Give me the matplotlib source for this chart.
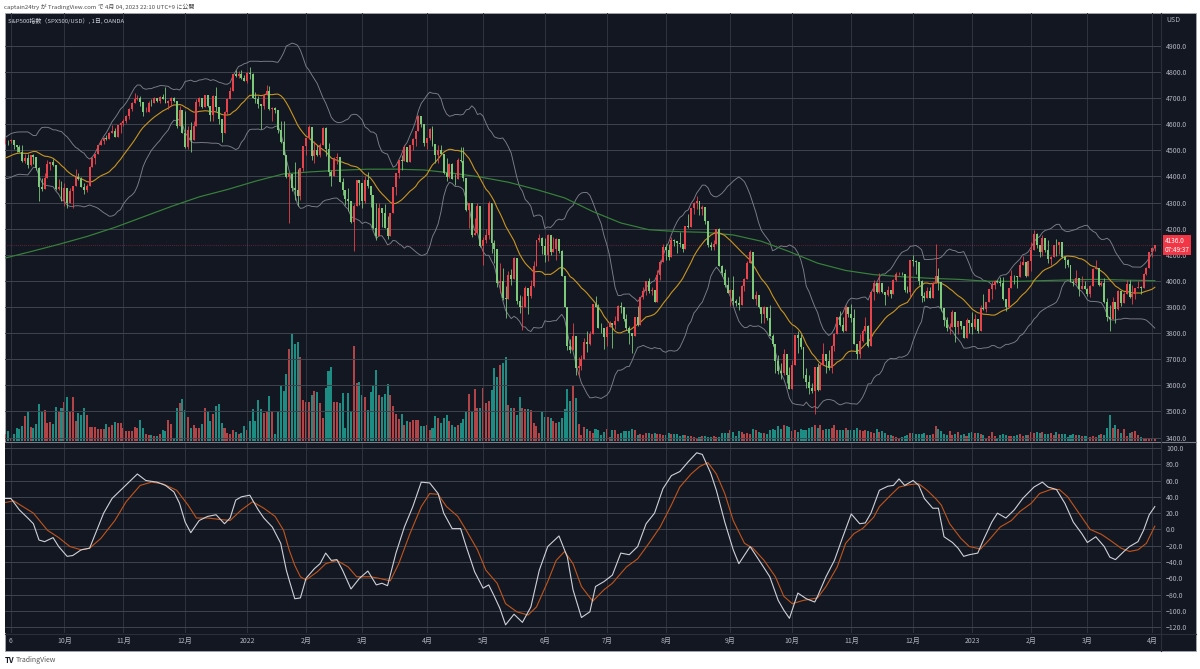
import numpy as np
import pandas as pd
import matplotlib
matplotlib.use("Agg")
import matplotlib.pyplot as plt
from matplotlib.patches import Rectangle
from matplotlib.lines import Line2D
from matplotlib.ticker import FuncFormatter

plt.rcParams['font.family'] = ['Noto Sans CJK JP', 'DejaVu Sans']

# ---------------- data ----------------
start_date = "2021-09-01"
end_date = "2023-04-04"
closed_days = ["2021-12-24", "2022-04-15", "2022-12-26", "2023-01-02"]

# August 2021 closes (only used to warm up the 20-day Bollinger band)
warmup_close = [4387, 4423, 4402, 4429, 4437, 4432, 4436, 4447, 4460, 4468, 4479,
                4448, 4400, 4405, 4441, 4479, 4486, 4496, 4470, 4509, 4528, 4523]

close = [
    4524, 4537, 4535, 4538, 4520, 4514, 4493, 4459, 4469, 4443, 4481, 4473, 4433, 4358, 4354, 4396, 4449, 4455, 4443, 4353, 4360, 4308,
    4357, 4300, 4345, 4363, 4399, 4391, 4361, 4350, 4364, 4438, 4471, 4486, 4519, 4537, 4549, 4545, 4567, 4575, 4551, 4596, 4605,
    4613, 4631, 4660, 4680, 4697, 4702, 4685, 4646, 4649, 4683, 4682, 4701, 4688, 4704, 4698, 4682, 4690, 4701, 4689, 4595, 4655, 4567,
    4513, 4577, 4538, 4592, 4686, 4701, 4668, 4712, 4669, 4635, 4710, 4668, 4621, 4568, 4649, 4697, 4726, 4791, 4786, 4793, 4778, 4766,
    4797, 4794, 4701, 4696, 4677, 4670, 4713, 4726, 4659, 4663, 4655, 4577, 4533, 4483, 4398, 4410, 4357, 4350, 4326, 4432, 4516,
    4546, 4589, 4477, 4501, 4484, 4522, 4587, 4504, 4419, 4402, 4472, 4475, 4380, 4349, 4312, 4305, 4226, 4288, 4385, 4374,
    4306, 4387, 4363, 4329, 4201, 4171, 4278, 4260, 4204, 4173, 4262, 4358, 4412, 4463, 4461, 4512, 4456, 4520, 4543, 4575, 4632, 4602, 4530,
    4546, 4583, 4525, 4481, 4500, 4488, 4413, 4397, 4447, 4392, 4391, 4463, 4460, 4394, 4272, 4297, 4175, 4184, 4288, 4132,
    4155, 4175, 4300, 4147, 4123, 3991, 4001, 3935, 3930, 4024, 4008, 4088, 3923, 3901, 3901, 3974, 3941, 3979, 4058, 4158, 4165, 4132,
    4101, 4177, 4109, 4121, 4161, 4116, 4018, 3901, 3750, 3735, 3790, 3667, 3675, 3700, 3765, 3760, 3796, 3912, 3901, 3821, 3819, 3785,
    3825, 3840, 3831, 3845, 3903, 3899, 3855, 3819, 3802, 3790, 3863, 3831, 3937, 3960, 3999, 3962, 3967, 3921, 4024, 4073, 4130,
    4119, 4091, 4155, 4152, 4145, 4140, 4122, 4210, 4207, 4280, 4297, 4305, 4275, 4284, 4228, 4138, 4128, 4141, 4199, 4058, 4031, 3986, 3955,
    3967, 3924, 3915, 3909, 3980, 4006, 4067, 4110, 3932, 3946, 3901, 3873, 3900, 3856, 3790, 3758, 3693, 3655, 3647, 3720, 3640, 3586,
    3678, 3791, 3783, 3745, 3640, 3612, 3589, 3577, 3670, 3583, 3677, 3720, 3695, 3666, 3752, 3797, 3860, 3831, 3807, 3901, 3872,
    3856, 3760, 3720, 3771, 3807, 3828, 3749, 3957, 3993, 3957, 3992, 3959, 3947, 3965, 3950, 4004, 4027, 4028, 4026, 3964, 3958, 4080,
    4076, 4072, 3999, 3941, 3934, 3963, 3934, 3991, 4020, 3996, 3896, 3852, 3818, 3822, 3879, 3822, 3845, 3829, 3783, 3849, 3840,
    3825, 3853, 3808, 3895, 3893, 3919, 3970, 3983, 3999, 3995, 3991, 3929, 3899, 3972, 4020, 4017, 4016, 4060, 4071, 4018, 4077,
    4119, 4180, 4136, 4111, 4164, 4118, 4082, 4090, 4137, 4136, 4148, 4090, 4079, 4060, 3997, 3991, 4012, 3970, 3982, 3970,
    3951, 3981, 4046, 4048, 3986, 3992, 3918, 3862, 3855, 3920, 3892, 3960, 3917, 3951, 3990, 3937, 3948, 3971, 3977, 3971, 4027, 4051, 4109,
    4125, 4136,
]

high = [
    4532, 4546, 4541, 4542, 4541, 4522, 4521, 4521, 4486, 4485, 4484, 4486, 4475, 4435, 4394, 4415, 4465, 4457, 4466, 4445, 4389, 4383,
    4375, 4356, 4356, 4365, 4429, 4412, 4398, 4375, 4372, 4439, 4475, 4488, 4520, 4539, 4551, 4560, 4572, 4598, 4584, 4597, 4608,
    4620, 4635, 4664, 4684, 4718, 4714, 4708, 4682, 4665, 4688, 4698, 4705, 4702, 4708, 4717, 4743, 4694, 4703, 4704, 4686, 4672, 4652,
    4652, 4595, 4608, 4612, 4695, 4705, 4698, 4713, 4711, 4666, 4712, 4743, 4666, 4599, 4651, 4700, 4741, 4792, 4807, 4805, 4808, 4787,
    4800, 4819, 4797, 4725, 4707, 4672, 4714, 4749, 4745, 4666, 4668, 4633, 4612, 4611, 4480, 4417, 4411, 4454, 4429, 4433, 4516,
    4547, 4596, 4542, 4537, 4522, 4529, 4591, 4589, 4527, 4426, 4473, 4490, 4446, 4395, 4350, 4356, 4307, 4295, 4385, 4388,
    4375, 4401, 4416, 4343, 4327, 4300, 4299, 4262, 4295, 4247, 4262, 4358, 4412, 4465, 4481, 4522, 4501, 4521, 4546, 4576, 4637, 4628, 4603,
    4549, 4587, 4593, 4503, 4521, 4521, 4471, 4471, 4453, 4453, 4410, 4471, 4512, 4512, 4386, 4299, 4278, 4240, 4300, 4270,
    4169, 4200, 4308, 4270, 4157, 4081, 4068, 4050, 3981, 4039, 4047, 4091, 4074, 3946, 3944, 3981, 3955, 4002, 4076, 4158, 4180, 4169,
    4166, 4178, 4143, 4169, 4164, 4160, 4117, 3975, 3838, 3778, 3838, 3728, 3708, 3715, 3780, 3809, 3808, 3912, 3942, 3911, 3838, 3819,
    3829, 3848, 3832, 3864, 3906, 3918, 3880, 3875, 3829, 3796, 3863, 3903, 3940, 3975, 4000, 4013, 3975, 3964, 4040, 4079, 4140,
    4140, 4140, 4167, 4161, 4152, 4187, 4142, 4211, 4257, 4280, 4301, 4325, 4303, 4292, 4274, 4207, 4149, 4156, 4200, 4204, 4062, 4045, 4015,
    3970, 4018, 3930, 3942, 3984, 4010, 4077, 4120, 4110, 3962, 3945, 3880, 3902, 3899, 3907, 3796, 3750, 3715, 3687, 3740, 3687, 3671,
    3698, 3791, 3807, 3796, 3719, 3668, 3640, 3607, 3672, 3686, 3689, 3762, 3704, 3736, 3755, 3800, 3862, 3886, 3860, 3906, 3893,
    3911, 3894, 3760, 3796, 3814, 3860, 3830, 3959, 4002, 3990, 4029, 3983, 3959, 3980, 3965, 4006, 4034, 4035, 4035, 4026, 3979, 4080,
    4101, 4080, 4072, 4002, 3958, 3977, 3977, 3994, 4140, 4051, 3996, 3870, 3863, 3839, 3888, 3879, 3846, 3846, 3829, 3859, 3849,
    3879, 3874, 3853, 3907, 3951, 3919, 3970, 3998, 4004, 4002, 4015, 4015, 3929, 3973, 4040, 4024, 4019, 4077, 4095, 4071, 4077,
    4148, 4195, 4183, 4136, 4176, 4164, 4156, 4095, 4138, 4159, 4149, 4148, 4090, 4083, 4060, 4004, 4040, 4012, 4018, 3999,
    3972, 3983, 4049, 4079, 4051, 4000, 4011, 3934, 3906, 3938, 3920, 3965, 3960, 3957, 4003, 4003, 3985, 3973, 3999, 3979, 4031, 4053, 4110,
    4129, 4138,
]

low = [
    4515, 4526, 4522, 4530, 4506, 4494, 4492, 4456, 4453, 4431, 4440, 4448, 4426, 4306, 4346, 4354, 4406, 4425, 4439, 4348, 4347, 4306,
    4288, 4279, 4301, 4279, 4371, 4387, 4359, 4332, 4340, 4375, 4448, 4448, 4493, 4519, 4524, 4538, 4546, 4568, 4551, 4553, 4567,
    4595, 4604, 4619, 4650, 4681, 4694, 4670, 4630, 4646, 4651, 4672, 4684, 4684, 4682, 4695, 4681, 4660, 4670, 4685, 4587, 4626, 4565,
    4510, 4504, 4495, 4540, 4610, 4670, 4662, 4671, 4667, 4614, 4612, 4651, 4600, 4532, 4583, 4640, 4703, 4733, 4780, 4778, 4775, 4765,
    4758, 4775, 4700, 4681, 4663, 4582, 4658, 4718, 4653, 4614, 4645, 4568, 4530, 4482, 4396, 4222, 4345, 4309, 4287, 4310, 4420,
    4483, 4544, 4464, 4452, 4477, 4476, 4547, 4477, 4402, 4364, 4429, 4446, 4377, 4328, 4290, 4267, 4221, 4114, 4287, 4292,
    4279, 4297, 4356, 4285, 4199, 4157, 4222, 4206, 4202, 4161, 4187, 4288, 4329, 4394, 4424, 4468, 4455, 4465, 4501, 4517, 4589, 4589, 4517,
    4507, 4539, 4515, 4451, 4450, 4487, 4410, 4381, 4395, 4391, 4367, 4390, 4455, 4384, 4268, 4201, 4170, 4178, 4188, 4128,
    4062, 4147, 4159, 4106, 4068, 3976, 3954, 3928, 3859, 3975, 3984, 4033, 3912, 3876, 3810, 3909, 3875, 3935, 3977, 4078, 4150, 4103,
    4074, 4075, 4101, 4110, 4080, 4108, 4018, 3900, 3735, 3722, 3749, 3640, 3636, 3660, 3715, 3728, 3754, 3799, 3899, 3820, 3799, 3738,
    3752, 3825, 3742, 3814, 3853, 3877, 3848, 3812, 3759, 3722, 3818, 3826, 3860, 3930, 3946, 3955, 3947, 3919, 3954, 4003, 4080,
    4079, 4079, 4096, 4135, 4107, 4128, 4112, 4177, 4201, 4231, 4255, 4277, 4254, 4254, 4218, 4131, 4120, 4120, 4147, 4057, 4017, 3976, 3954,
    3903, 3907, 3905, 3887, 3907, 3960, 4018, 4084, 3930, 3907, 3896, 3838, 3838, 3850, 3789, 3749, 3647, 3645, 3624, 3640, 3610, 3584,
    3590, 3726, 3723, 3738, 3627, 3589, 3568, 3570, 3491, 3577, 3644, 3678, 3649, 3658, 3647, 3733, 3799, 3826, 3803, 3808, 3863,
    3843, 3759, 3699, 3706, 3764, 3805, 3748, 3797, 3927, 3954, 3953, 3954, 3907, 3942, 3933, 3956, 3999, 4022, 4023, 3957, 3955, 3940,
    4057, 4027, 3984, 3918, 3922, 3933, 3933, 3937, 3993, 3966, 3885, 3827, 3808, 3795, 3842, 3764, 3797, 3814, 3783, 3801, 3800,
    3795, 3817, 3802, 3810, 3890, 3882, 3930, 3932, 3969, 3992, 3981, 3925, 3885, 3909, 3971, 3990, 3973, 4034, 4059, 4015, 4018,
    4038, 4124, 4126, 4093, 4097, 4112, 4069, 4060, 4093, 4095, 4103, 4088, 4048, 4052, 3995, 3981, 3988, 3943, 3977, 3968,
    3943, 3938, 3987, 4044, 3980, 3980, 3917, 3847, 3808, 3874, 3839, 3888, 3902, 3917, 3951, 3936, 3911, 3931, 3973, 3951, 3999, 4021, 4056,
    4093, 4115,
]

# tick volume (arbitrary units, read as relative bar heights)
volume = [
    25, 20, 30, 10, 20, 40, 35, 45, 75, 90, 42, 40, 52, 110, 90, 92, 55, 58, 50, 102, 88, 100,
    118, 132, 88, 133, 60, 85, 77, 98, 78, 42, 43, 43, 35, 35, 36, 52, 42, 47, 57, 55, 55,
    38, 30, 30, 30, 42, 38, 62, 38, 20, 18, 18, 16, 15, 22, 33, 30, 63, 52, 7, 100, 115, 126,
    92, 72, 40, 47, 40, 40, 50, 98, 90, 60, 82, 105, 110, 55, 38, 25, 22, 32, 28, 22, 25, 44,
    34, 60, 95, 60, 123, 97, 85, 87, 135, 90, 22, 87, 165, 150, 200, 275, 320, 290, 295, 252, 122,
    118, 118, 137, 150, 148, 115, 68, 158, 210, 220, 118, 118, 115, 143, 40, 143, 87, 285, 173, 175,
    137, 133, 94, 147, 167, 213, 137, 132, 140, 170, 137, 105, 80, 65, 80, 47, 60, 58, 62, 62, 62, 45, 45,
    48, 33, 40, 75, 70, 55, 68, 77, 60, 48, 43, 47, 55, 67, 87, 140, 87, 155, 100, 98,
    158, 115, 120, 153, 217, 192, 227, 232, 252, 108, 98, 100, 78, 132, 98, 95, 95, 93, 55, 45, 25, 88,
    72, 72, 68, 60, 55, 57, 68, 95, 155, 120, 168, 130, 50, 17, 43, 37, 30, 25, 37, 33, 17, 27,
    37, 12, 33, 33, 22, 25, 30, 30, 30, 35, 32, 18, 22, 18, 23, 25, 20, 23, 20, 20, 18,
    17, 25, 22, 20, 20, 16, 17, 17, 14, 14, 12, 10, 12, 14, 15, 13, 12, 15, 13, 12, 23, 25, 25,
    32, 28, 15, 30, 28, 22, 25, 20, 37, 32, 28, 25, 25, 22, 33, 35, 32, 44, 35, 47, 45, 42,
    30, 33, 27, 37, 34, 32, 40, 42, 47, 40, 47, 32, 35, 35, 38, 47, 32, 33, 32, 40, 32,
    32, 32, 40, 32, 30, 33, 30, 27, 23, 37, 28, 30, 25, 18, 17, 15, 12, 8, 12, 15, 17, 25,
    23, 20, 20, 20, 25, 18, 18, 20, 45, 35, 30, 22, 18, 30, 18, 20, 27, 18, 22, 15, 23,
    28, 25, 25, 22, 18, 10, 15, 27, 15, 10, 17, 20, 18, 15, 15, 15, 17, 20, 15, 18, 17,
    27, 25, 28, 25, 27, 22, 20, 23, 18, 28, 20, 20, 20, 12, 17, 22, 17, 17, 15, 15,
    15, 12, 15, 12, 17, 20, 17, 40, 77, 40, 48, 35, 25, 37, 15, 25, 27, 30, 17, 12, 10, 10, 10,
    10, 5,
]

# long moving average (green), read every 10 bars
ma_long_bar = list(range(0, 411, 10))
ma_long_val = [4085, 4112, 4140, 4170, 4205, 4245, 4285, 4322, 4350, 4382, 4410, 4418, 4424, 4428,
               4428, 4425, 4413, 4398, 4378, 4350, 4318, 4266, 4222, 4196, 4189, 4186, 4176, 4152,
               4112, 4068, 4040, 4024, 4016, 4010, 4006, 3999, 3998, 4001, 4004, 4006, 4003, 4001]

# oscillator: (bar number, value)
osc_fast = [
    (1, 38), (3, 38), (6, 24), (9, 14), (11, 7), (13, -13), (15, -15), (18, -10), (20, -21), (23, -33),
    (25, -32), (28, -25), (31, -23), (34, 3), (36, 20), (39, 38), (42, 48), (45, 58), (48, 68), (51, 60),
    (55, 58), (58, 54), (61, 46), (63, 32), (65, 9), (67, -4), (70, 11), (73, 16), (76, 18), (79, 7),
    (81, 14), (83, 36), (85, 40), (88, 42), (91, 24), (93, 14), (96, 3), (99, -17), (101, -50), (102, -62),
    (104, -85), (106, -84), (108, -60), (111, -48), (113, -42), (115, -29), (117, -38), (119, -37), (121, -50),
    (124, -73), (127, -60), (130, -51), (133, -68), (135, -66), (137, -69), (140, -29), (143, 3), (146, 28),
    (149, 58), (152, 57), (155, 44), (157, 20), (160, 1), (163, 1), (165, -21), (168, -52), (171, -72),
    (173, -68), (175, -82), (177, -97), (179, -117), (182, -104), (185, -114), (188, -95), (191, -50),
    (194, -21), (198, -8), (201, -34), (203, -74), (206, -108), (209, -101), (211, -70), (214, -64),
    (217, -56), (220, -29), (223, -31), (226, -21), (229, 7), (232, 20), (235, 50), (238, 66), (241, 71),
    (244, 83), (247, 94), (249, 92), (252, 69), (254, 48), (257, 9), (260, -25), (262, -42), (266, -21),
    (270, -42), (273, -58), (276, -87), (278, -99), (280, -109), (283, -78), (286, -85), (289, -89),
    (290, -82), (293, -58), (296, -38), (299, -9), (302, 19), (305, 7), (307, 8), (309, 20), (312, 48),
    (315, 53), (317, 54), (319, 62), (321, 54), (324, 60), (326, 54), (328, 38), (331, 26), (333, 26),
    (335, -9), (338, -16), (340, -23), (342, -33), (344, -31), (347, -29), (349, -13), (352, 9), (354, 20),
    (357, 14), (360, 24), (363, 38), (367, 52), (370, 58), (372, 52), (375, 49), (378, 32), (381, 9),
    (384, -5), (386, -16), (389, -9), (392, -21), (394, -34), (396, -37), (399, -27), (401, -21),
    (404, -15), (406, -1), (408, 18), (410, 28),
]
osc_slow = [
    (1, 33), (4, 35), (11, 20), (16, -1), (20, -10), (24, -21), (28, -25), (31, -23), (35, -11), (40, 11),
    (44, 34), (49, 54), (53, 58), (57, 56), (62, 48), (66, 30), (69, 14), (73, 14), (78, 12), (81, 11),
    (85, 24), (89, 34), (93, 26), (97, 16), (100, -1), (102, -25), (104, -44), (106, -58), (108, -62),
    (112, -52), (115, -42), (119, -38), (123, -46), (126, -58), (131, -58), (134, -60), (138, -63),
    (141, -42), (145, -5), (149, 28), (152, 44), (155, 43), (158, 28), (162, 16), (165, -1), (169, -25),
    (172, -50), (176, -66), (179, -91), (183, -101), (187, -105), (190, -95), (194, -64), (197, -38),
    (200, -27), (203, -42), (206, -70), (210, -88), (214, -74), (217, -66), (222, -46), (226, -36),
    (230, -17), (234, 3), (238, 30), (241, 52), (245, 68), (248, 77), (251, 82), (254, 68), (257, 44),
    (260, 11), (264, -17), (267, -23), (271, -38), (275, -58), (278, -82), (281, -91), (285, -87),
    (290, -84), (293, -70), (297, -46), (300, -17), (303, -5), (306, 1), (310, 15), (312, 28), (316, 42),
    (319, 52), (323, 55), (326, 56), (329, 48), (332, 38), (334, 30), (337, 7), (341, -11), (344, -21),
    (348, -24), (351, -13), (355, 3), (359, 11), (362, 22), (366, 32), (369, 44), (373, 49), (376, 49),
    (379, 40), (383, 20), (387, 0), (391, -6), (394, -13), (398, -23), (401, -27), (404, -25), (407, -17),
    (410, 4),
]

tick_dates = ["2021-09-06", "2021-10-01", "2021-11-01", "2021-12-01", "2022-01-03", "2022-02-01",
              "2022-03-01", "2022-04-01", "2022-05-02", "2022-06-01", "2022-07-01", "2022-08-01",
              "2022-09-01", "2022-10-03", "2022-11-01", "2022-12-01", "2023-01-03", "2023-02-01",
              "2023-03-01", "2023-04-03"]
tick_labels = ["6", "10月", "11月", "12月", "2022", "2月", "3月", "4月", "5月", "6月", "7月", "8月",
               "9月", "10月", "11月", "12月", "2023", "2月", "3月", "4月"]
price_ticks = [3400, 3500, 3600, 3700, 3800, 3900, 4000, 4100, 4200, 4300, 4400, 4500, 4600, 4700, 4800, 4900]
osc_ticks = [-120, -100, -80, -60, -40, -20, 0, 20, 40, 60, 80, 100]

header_text = "captain24try が TradingView.com で 4月 04, 2023 22:10 UTC+9 に公開"
title_text = "S&P500指数（SPX500/USD）, 1日, OANDA"
last_price_text = "4136.0"
countdown_text = "07:49:37"

# ---------------- prepare ----------------
dates = pd.bdate_range(start_date, end_date)
dates = dates[~dates.isin(pd.to_datetime(closed_days))]
n = len(dates)
for name, arr in [("close", close), ("high", high), ("low", low), ("volume", volume)]:
    assert len(arr) == n, f"{name} has {len(arr)} values, expected {n}"

x = np.arange(n)
c = np.array(close, dtype=float)
o = np.concatenate([[warmup_close[-1]], c[:-1]])
h = np.maximum(np.array(high, dtype=float), np.maximum(o, c))
l = np.minimum(np.array(low, dtype=float), np.minimum(o, c))
up = c >= o

series = pd.Series(warmup_close + close, dtype=float)
mid = series.rolling(20).mean()
sd = series.rolling(20).std(ddof=0)
k = len(warmup_close)
bb_mid = mid.values[k:]
bb_up = (mid + 2 * sd).values[k:]
bb_lo = (mid - 2 * sd).values[k:]

tick_pos = [dates.get_loc(pd.Timestamp(d)) for d in tick_dates]
fast = np.array(osc_fast, dtype=float)
slow = np.array(osc_slow, dtype=float)

# ---------------- style ----------------
BG = "#131722"
GRID_H = "#40444f"
GRID_V = "#2f333e"
TXT = "#b2b5be"
UP = "#e8424a"
DOWN = "#7cc97a"
VUP = "#c4484c"
VDOWN = "#1f9a8e"
FS = 5.0

W, H = 1200, 669
def fx(px): return px / W
def fy(py): return 1 - py / H

fig = plt.figure(figsize=(12, 6.69), dpi=100)
fig.patch.set_facecolor("white")
fig.add_artist(Rectangle((fx(4.5), fy(651)), fx(1196) - fx(4.5), fy(13) - fy(651),
                         transform=fig.transFigure, facecolor=BG, edgecolor="#a3a6af",
                         linewidth=0.6, zorder=0))

L, R = 5, 1161
ax_vol = fig.add_axes([fx(L), fy(441), fx(R) - fx(L), fy(13) - fy(441)])
ax_price = fig.add_axes([fx(L), fy(441), fx(R) - fx(L), fy(13) - fy(441)], sharex=ax_vol)
ax_osc = fig.add_axes([fx(L), fy(633), fx(R) - fx(L), fy(443) - fy(633)], sharex=ax_vol)

ax_vol.set_zorder(1)
ax_price.set_zorder(2)
ax_osc.set_zorder(1)
ax_vol.set_facecolor(BG)
ax_price.patch.set_visible(False)
ax_osc.set_facecolor(BG)

# volume
ax_vol.bar(x, volume, width=0.72, color=np.where(up, VUP, VDOWN), linewidth=0, alpha=0.9)
ax_vol.set_ylim(0, 1280)
ax_vol.axis("off")

# grids and ticks
for ax in (ax_price, ax_osc):
    for s in ax.spines.values():
        s.set_visible(False)
    ax.set_xticks(tick_pos)
    ax.xaxis.grid(True, color=GRID_V, linewidth=0.7)
    ax.yaxis.grid(True, color=GRID_H, linewidth=0.7)
    ax.set_axisbelow(True)
    ax.yaxis.tick_right()
    ax.tick_params(axis="both", length=0, labelsize=FS, labelcolor=TXT)
    ax.tick_params(axis="y", pad=3.6)

# bollinger + averages
ax_price.plot(x, bb_up, color="#7d808a", linewidth=0.65, zorder=3)
ax_price.plot(x, bb_lo, color="#7d808a", linewidth=0.65, zorder=3)
ax_price.plot(ma_long_bar, ma_long_val, color="#37833b", linewidth=0.85, zorder=3)
ax_price.plot(x, bb_mid, color="#c8951f", linewidth=0.8, zorder=3)

# candles
ax_price.vlines(x, l, h, colors=np.where(up, UP, DOWN), linewidth=0.6, zorder=4)
body_lo = np.minimum(o, c)
body_h = np.maximum(np.abs(c - o), 1.2)
ax_price.bar(x, body_h, bottom=body_lo, width=0.7, color=np.where(up, UP, DOWN),
             linewidth=0, zorder=5)

ax_price.set_xlim(0.9, 412.2)
ax_price.set_ylim(3386.6, 5026.4)
ax_price.set_yticks(price_ticks)
ax_price.yaxis.set_major_formatter(FuncFormatter(lambda v, p: f"{v:.1f}"))
ax_price.tick_params(axis="x", labelbottom=False)

# last price line and tag
last = c[-1]
ax_price.axhline(last, color="#f23645", linewidth=0.5, linestyle=(0, (1, 2)), alpha=0.7, zorder=2)
ax_price.annotate(f"{last_price_text}\n{countdown_text}", xy=(1.0, last),
                  xycoords=("axes fraction", "data"), xytext=(2.6, 0), textcoords="offset points",
                  ha="left", va="center", fontsize=4.6, color="white", linespacing=1.05,
                  bbox=dict(boxstyle="square,pad=0.3", facecolor="#f23645", edgecolor="none"),
                  annotation_clip=False, zorder=10)

# oscillator
ax_osc.plot(slow[:, 0], slow[:, 1], color="#c0551c", linewidth=0.8)
ax_osc.plot(fast[:, 0], fast[:, 1], color="#cfd1d7", linewidth=0.8)
ax_osc.set_ylim(-127, 106.0)
ax_osc.set_yticks(osc_ticks)
ax_osc.yaxis.set_major_formatter(FuncFormatter(lambda v, p: f"{v:.1f}".replace("-", "\u2212")))
ax_osc.set_xticklabels(tick_labels)
ax_osc.tick_params(axis="x", pad=3.2)

# separators
fig.add_artist(Line2D([fx(4.5), fx(1196)], [fy(442), fy(442)], transform=fig.transFigure,
                      color="#7a7d87", linewidth=0.8, zorder=6))
fig.add_artist(Line2D([fx(R), fx(R)], [fy(13), fy(651)], transform=fig.transFigure,
                      color="#2a2e39", linewidth=0.8, zorder=6))
fig.add_artist(Line2D([fx(4.5), fx(1196)], [fy(633.5), fy(633.5)], transform=fig.transFigure,
                      color="#2a2e39", linewidth=0.8, zorder=6))

# texts
fig.text(fx(4), fy(6.5), header_text, fontsize=4.3, color="#4a4a4a", va="center", ha="left")
fig.text(fx(8), fy(20.5), title_text, fontsize=4.3, color="#d1d4dc", va="center", ha="left", zorder=10)
fig.text(fx(1166), fy(20), "USD", fontsize=FS, color=TXT, va="center", ha="left", zorder=10)
fig.text(fx(5), fy(660.5), "TV", fontsize=5.5, color="#131722", fontweight="bold", va="center", ha="left")
fig.text(fx(16), fy(660.5), "TradingView", fontsize=5.0, color="#555555", va="center", ha="left")

fig.savefig("out.png", dpi=100, facecolor="white")
